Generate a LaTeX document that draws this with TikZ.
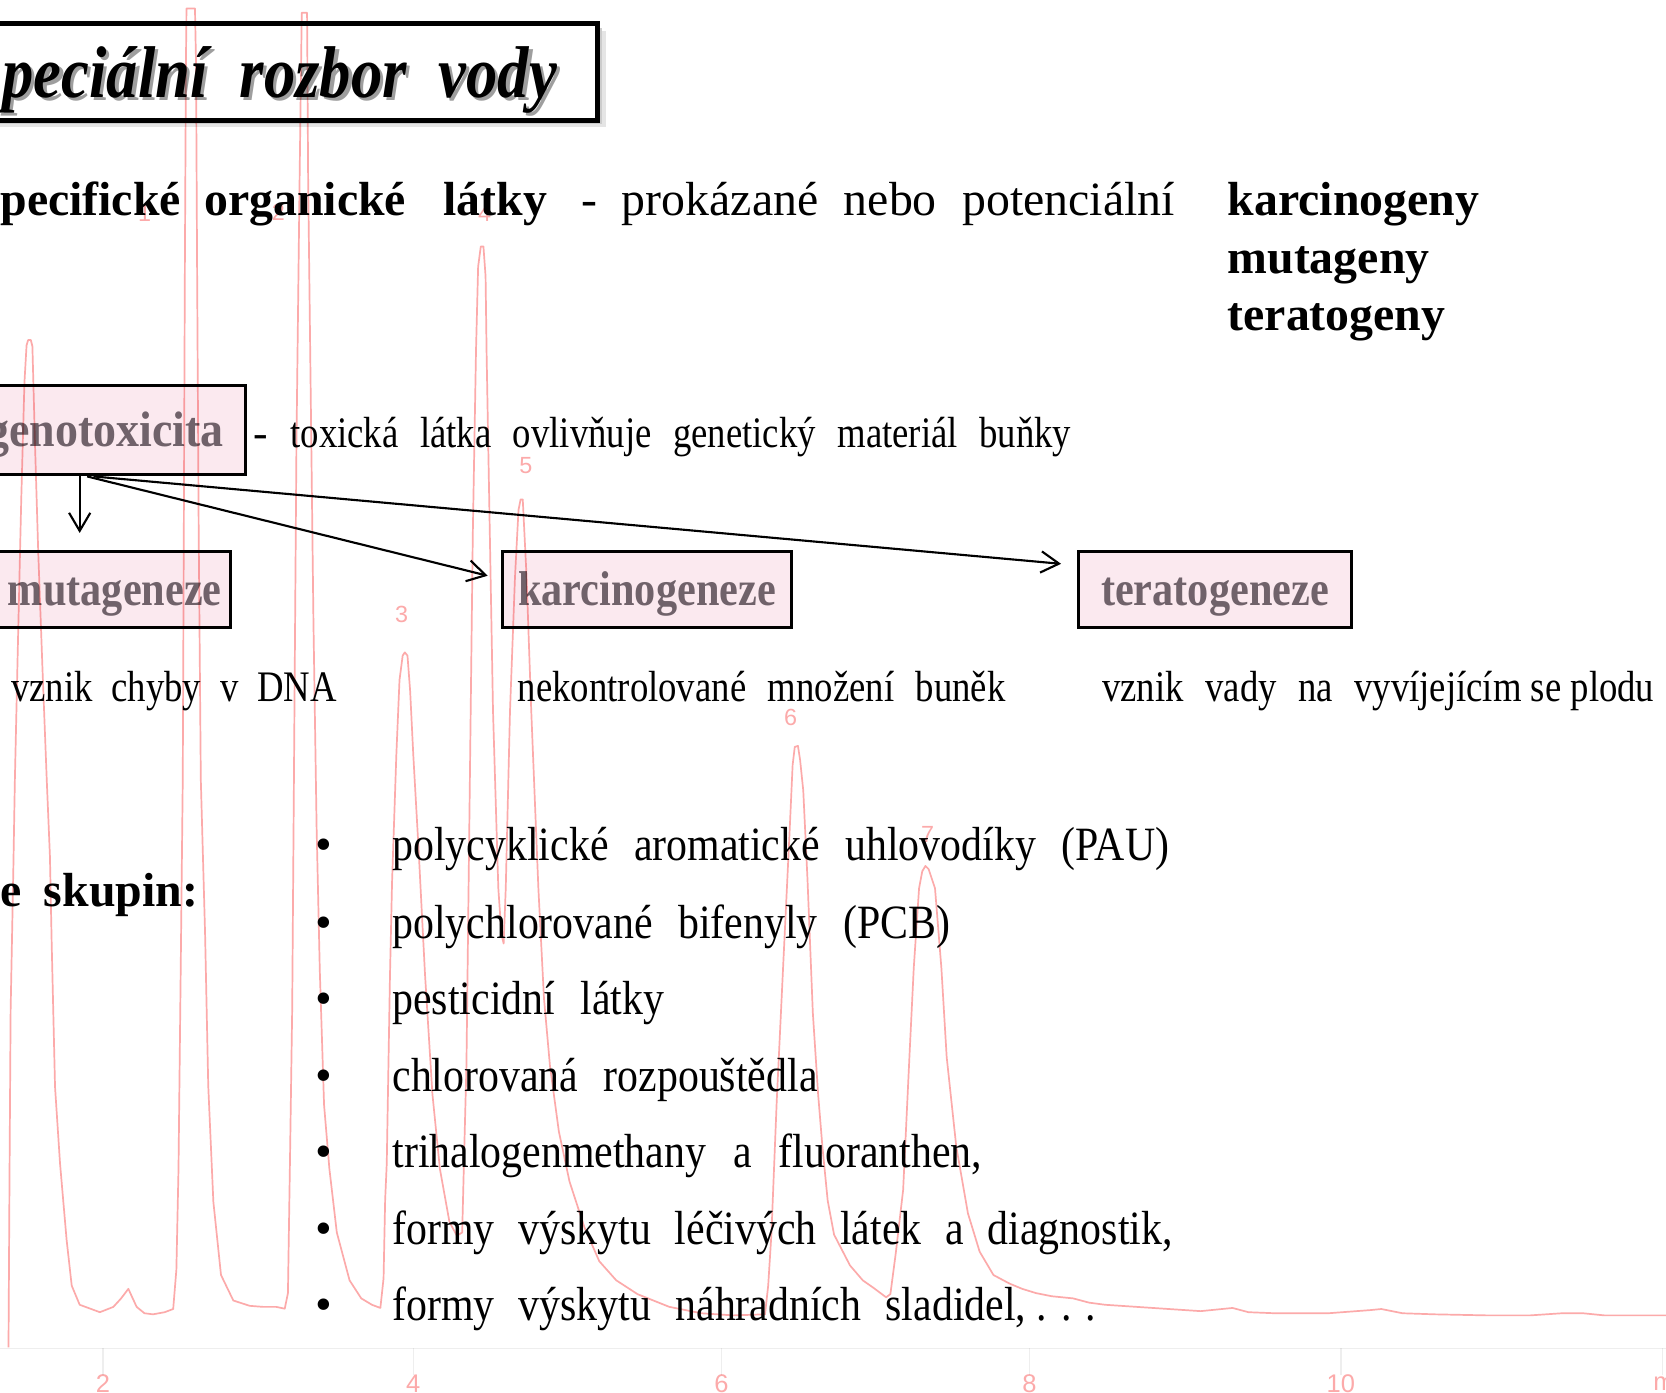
\documentclass[tikz,border=0pt]{standalone}
\usepackage{fontspec}
\setmainfont{Liberation Serif}
\newfontfamily\chromfont{Liberation Sans}
\usepackage{graphicx}
\usetikzlibrary{arrows.meta,calc}
\definecolor{boxpink}{RGB}{251,233,239}
\definecolor{boxtext}{RGB}{112,98,106}
\definecolor{chrom}{RGB}{252,170,170}
\definecolor{axisgray}{RGB}{238,238,238}
\newcommand\cnd[2]{\scalebox{#1}[1]{#2}}
\begin{document}
\begin{tikzpicture}[x=0.5pt, y=-0.5pt,
  txt/.style={inner sep=0pt, anchor=base west},
  bigb/.style={txt, font=\fontsize{22.5}{27}\selectfont\bfseries},
  bigr/.style={txt, font=\fontsize{22.5}{27}\selectfont},
  smr/.style={txt, font=\fontsize{20.5}{25}\selectfont},
  lst/.style={txt, font=\fontsize{22.5}{27}\selectfont},
  bul/.style={inner sep=0pt, anchor=base, font=\fontsize{22.5}{27}\selectfont},
  pinkbox/.style={draw=black, line width=1.4pt, fill=boxpink, text=boxtext,
    font=\fontsize{23}{27}\selectfont\bfseries, text height=14.5pt, text depth=0pt,
    inner ysep=0pt, minimum height=36pt},
  titlebox/.style={draw=black, line width=2.2pt, fill=white},
  arr/.style={draw=black, line width=1pt, -{Straight Barb[length=8.5pt,width=10pt]}},
  chromline/.style={draw=chrom, line width=0.8pt, line join=round},
  plab/.style={text=chrom, font=\chromfont\fontsize{11}{13}\selectfont, inner sep=0pt},
  alab/.style={text=chrom, font=\chromfont\fontsize{12}{14}\selectfont, inner sep=0pt},
]
\useasboundingbox (0,0) rectangle (1568,1311);
\clip (0,0) rectangle (1568,1311);
\fill[white] (0,0) rectangle (1568,1311);

% title box with soft shadow
\fill[black!10] (-10,29) rectangle (570,120);
\fill[black!20] (-10,26) rectangle (567,117);
\fill[black!32] (-10,24) rectangle (564,115);
\node[titlebox, anchor=north west, minimum width=285pt, minimum height=45.5pt, inner sep=0pt] (title) at (-10,20) {};
\node[txt, text=black!38, font=\fontsize{34.5}{40}\selectfont\bfseries\itshape] (ttlshadow) at (5,95)
  {\cnd{0.855}{peciální\hspace{17.5pt}rozbor\hspace{17.5pt}vody}};
\node[txt, font=\fontsize{34.5}{40}\selectfont\bfseries\itshape] (ttl) at (2,92)
  {\cnd{0.855}{peciální\hspace{17.5pt}rozbor\hspace{17.5pt}vody}};

% second line
\node[bigb] (spec) at (0,203) {pecifické\hspace{11pt}organické\hspace{17.5pt}látky};
\node[bigr] (dash1) at (547,203) {-};
\node[bigr] (prok) at (585,203) {prokázané\hspace{12pt}nebo\hspace{12pt}potenciální};
\node[bigb] (karg) at (1155,203) {karcinogeny};
\node[bigb] (mutg) at (1155,257) {mutageny};
\node[bigb] (terg) at (1155,311) {teratogeny};

% boxes
\node[pinkbox, anchor=east, minimum height=42pt, inner xsep=10pt, text height=15pt,
  font=\fontsize{23.5}{28}\selectfont\bfseries] (geno) at (232,405) {\cnd{0.92}{genotoxicita}};
\node[smr] (dash2) at (238,421) {-};
\node[smr] (toxi) at (273,421) {\cnd{0.843}{toxická\hspace{12pt}látka\hspace{12pt}ovlivňuje\hspace{12pt}genetický\hspace{12pt}materiál\hspace{12pt}buňky}};

\node[pinkbox, anchor=east, inner xsep=4pt] (muta) at (218,555) {\hspace*{12pt}\cnd{0.865}{mutageneze}};
\node[pinkbox, minimum width=136pt] (karc) at (609,555) {\cnd{0.865}{karcinogeneze}};
\node[pinkbox, minimum width=128.5pt] (tera) at (1143.5,555) {\cnd{0.865}{teratogeneze}};

% arrows
\coordinate (gs1) at ($(geno.south east)+(-157,0)$);
\coordinate (gs2) at ($(geno.south east)+(-150,0)$);
\coordinate (gs3) at ($(geno.south east)+(-144,0)$);
\draw[arr, shorten >=8pt] (gs1) -- (gs1 |- muta.north);
\draw[arr, shorten >=6.5pt] (gs2) -- ([yshift=5pt]karc.west);
\draw[arr, shorten >=7.5pt] (gs3) -- ([yshift=11.5pt]tera.west);

% descriptions
\node[smr] (dmuta) at (10,660) {\cnd{0.843}{vznik\hspace{10.5pt}chyby\hspace{10.5pt}v\hspace{10.5pt}DNA}};
\node[smr] (dkarc) at (487,660) {\cnd{0.843}{nekontrolované\hspace{12pt}množení\hspace{12pt}buněk}};
\node[smr] (dtera) at (1037,660) {\cnd{0.843}{vznik\hspace{12pt}vady\hspace{12pt}na\hspace{12pt}vyvíjejícím se plodu}};

% groups
\node[bigb] (skup) at (0,853) {e\hspace{10.5pt}skupin:};

\foreach \y/\n in {810/b1,883/b2,955/b3,1027/b4,1099/b5,1171/b6,1243/b7}
  \node[bul] (\n) at (305,\y) {•};
\node[lst] (l1) at (369,810) {\cnd{0.875}{polycyklické\hspace{13.7pt}aromatické\hspace{13.7pt}uhlovodíky\hspace{13.7pt}(PAU)}};
\node[lst] (l2) at (369,883) {\cnd{0.875}{polychlorované\hspace{13.7pt}bifenyly\hspace{13.7pt}(PCB)}};
\node[lst] (l3) at (369,955) {\cnd{0.875}{pesticidní\hspace{13.7pt}látky}};
\node[lst] (l4) at (369,1027) {\cnd{0.875}{chlorovaná\hspace{13.7pt}rozpouštědla}};
\node[lst] (l5) at (369,1099) {\cnd{0.875}{trihalogenmethany\hspace{14.5pt}a\hspace{14.5pt}fluoranthen,}};
\node[lst] (l6) at (369,1171) {\cnd{0.875}{formy\hspace{12.8pt}výskytu\hspace{12.8pt}léčivých\hspace{12.8pt}látek\hspace{12.8pt}a\hspace{12.8pt}diagnostik,}};
\node[lst] (l7) at (369,1243) {\cnd{0.875}{formy\hspace{13pt}výskytu\hspace{13pt}náhradních\hspace{13pt}sladidel, . . .}};

% chromatogram overlay
\begin{scope}[blend mode=multiply]
\draw[axisgray, line width=0.6pt] (0,1269) -- (1568,1269);
\foreach \x in {97,389,679,969,1262,1565} \draw[axisgray, line width=0.6pt] (\x,1269) -- (\x,1294);
\draw[chromline] plot coordinates {
(8,1268) (9,1100) (10,951) (12.5,821) (14,734) (17,600) (20,470) (23,360) (25,325) (26.5,320) (29,320) (30.5,326) (33,420) (36,520) (40,630) (44,734) (47,806) (48.6,886) (51.8,1023) (56.5,1095) (62.7,1167) (67.5,1210) (75,1228) (94,1235) (106.7,1230) (114,1222) (120.8,1213) (124,1220) (128.6,1230) (136,1236) (144,1237) (155,1235) (163,1232) (166,1195) (168,1100) (170,920) (172,734) (173,500) (174,251) (175,60) (175.5,8) (183.5,8) (184.5,60) (185.5,251) (187,500) (189,734) (193,878) (196,1022) (200.8,1131) (208,1200) (219.6,1224) (235,1229) (247.8,1230) (260,1230) (268,1231.7) (271,1217) (273,1087) (275,950) (276.5,752) (279,418) (282,167) (284,12) (289,12) (290,167) (292,334) (295,585) (298,780) (301,914) (305,1040) (310,1100) (317,1160) (329,1205) (340,1222) (350,1228) (358,1231) (361,1203) (362.5,1129) (364,1095) (367,920) (369,830) (373,711) (376,640) (379,617) (381,614) (383.5,617) (386,650) (389,711) (394,800) (400,917) (407,1030) (414,1100) (423,1150) (430,1163) (435,1160) (437,1080) (439,1003) (442,753) (445,502) (448,330) (450,251) (452.5,232) (455,232) (457,260) (458,334) (461,502) (464,669) (469,836) (472,880) (474,888) (476,836) (480,669) (484.7,543) (488,480) (490,470) (492,470) (495.6,543) (500,669) (506.7,836) (512,940) (517.6,1003) (526,1065) (536,1112) (550,1155) (564,1187) (580,1205) (600,1218) (630,1230) (660,1236) (690,1238) (720,1237) (723,1210) (726,1162) (731,1037) (737,911) (743,786) (746,720) (748,703) (751,702) (753,715) (756,744) (760,828) (765,953) (770,1030) (774,1079) (779,1130) (785,1162) (800,1191) (812,1205) (822,1212) (834,1221) (838,1218) (843,1180) (850,1120) (856,993) (860,911) (865,836) (868,820) (871,815) (874,818) (880,836) (886,911) (891,995) (900,1079) (911,1142) (922,1178) (935,1200) (950,1208) (962,1213) (975,1217) (990,1220) (1010,1222) (1025,1226) (1040,1228) (1070,1230) (1100,1232) (1130,1234) (1150,1232) (1160,1231) (1175,1235) (1200,1236) (1250,1236) (1290,1233) (1300,1232) (1320,1236) (1350,1237) (1400,1238) (1440,1238) (1470,1236) (1490,1236) (1510,1238) (1570,1238)};
\node[plab] (pk1) at (136,201) {1};
\node[plab] (pk2) at (262,200) {2};
\node[plab] (pk4) at (456,201) {4};
\node[plab] (pk3) at (378,578) {3};
\node[plab] (pk5) at (495,438) {5};
\node[plab] (pk6) at (744,675) {6};
\node[plab] (pk7) at (873,785) {7};
\node[alab] (ax2) at (97,1302) {2};
\node[alab] (ax4) at (389,1302) {4};
\node[alab] (ax6) at (679,1302) {6};
\node[alab] (ax8) at (969,1302) {8};
\node[alab] (ax10) at (1262,1302) {10};
\node[alab] (axm) at (1566,1302) {m};
\end{scope}
\end{tikzpicture}
\end{document}
